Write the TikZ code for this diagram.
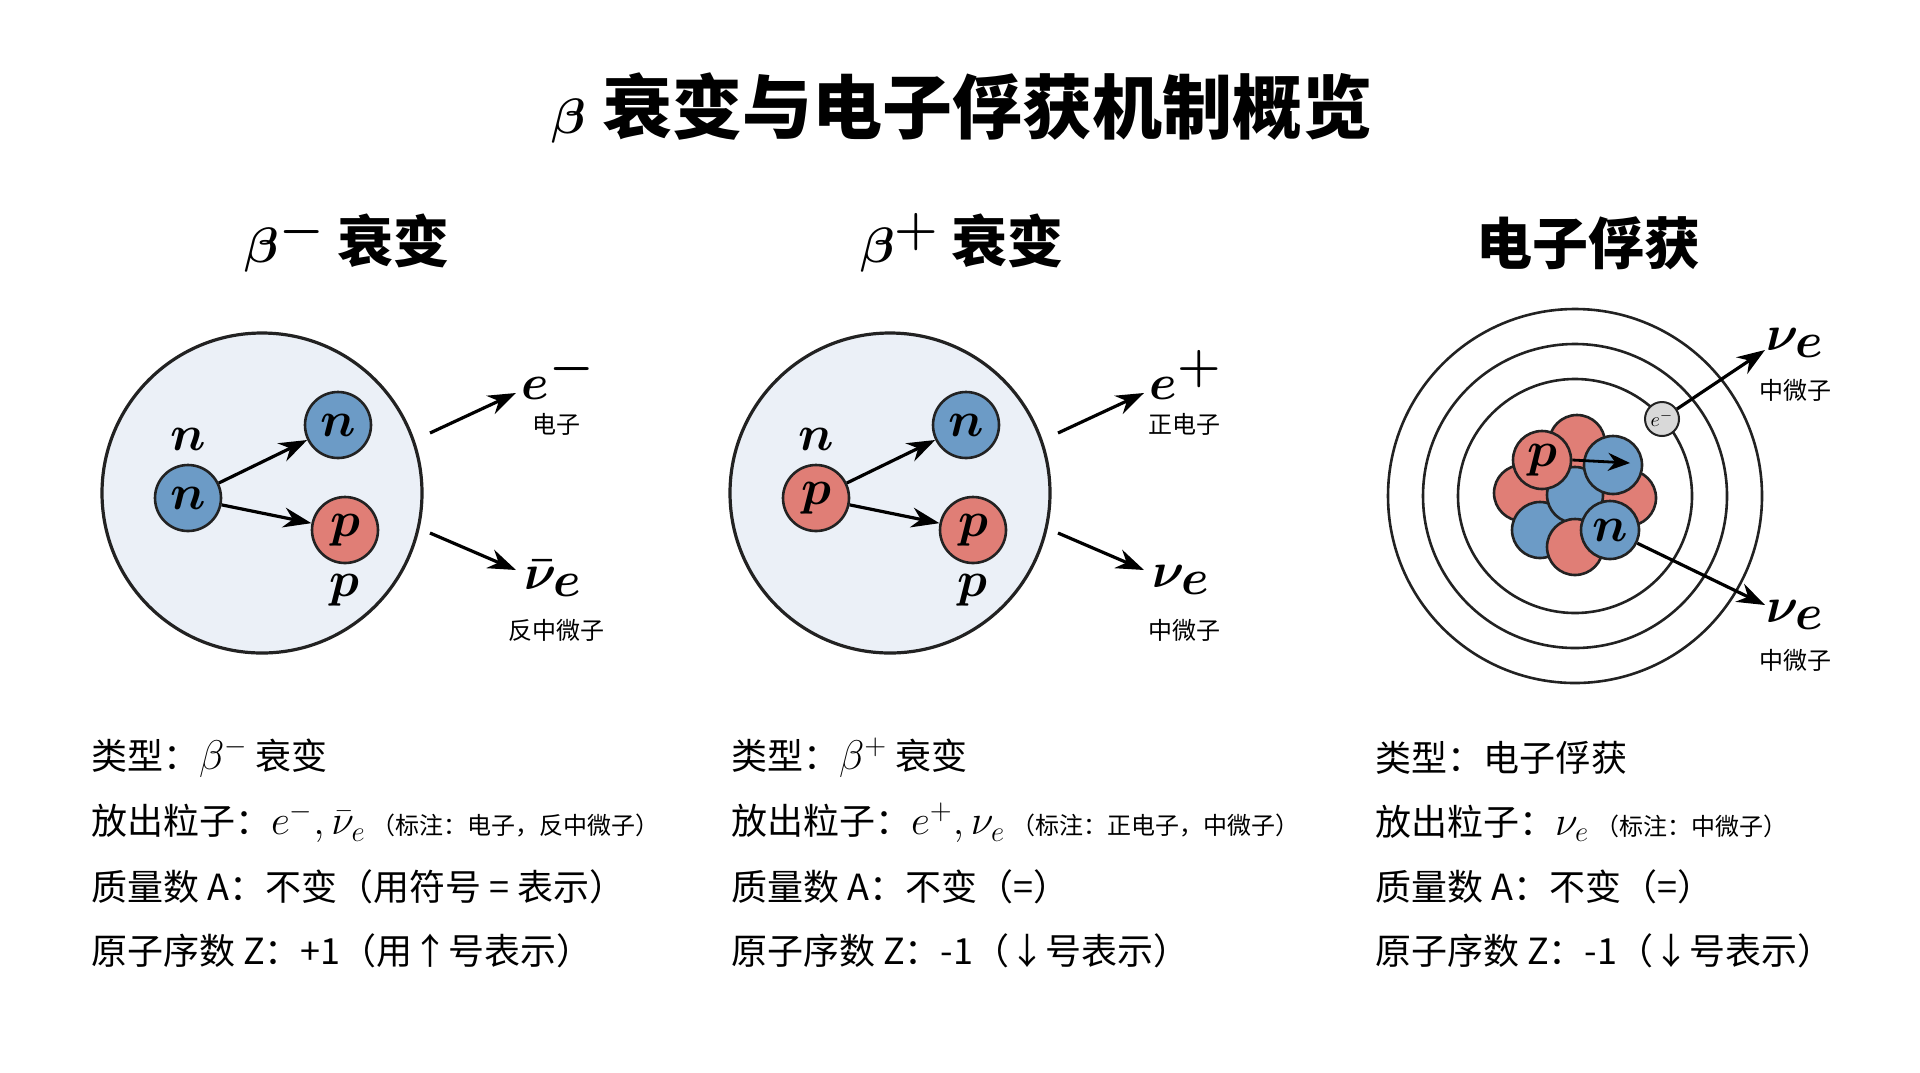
\documentclass[tikz,border=0pt]{standalone}
\usepackage{amsmath}
\usepackage{fontspec}
\setmainfont{Noto Sans CJK SC}
\usetikzlibrary{arrows.meta}
\definecolor{nblue}{HTML}{6C9BC6}
\definecolor{pred}{HTML}{E07E76}
\definecolor{cellbg}{HTML}{EBF0F7}
\definecolor{ink}{HTML}{222222}
\tikzset{>={Stealth[length=14pt,width=10pt]}}
\tikzset{
	ball/.style={circle, draw=ink, line width=1.3pt, minimum size=33pt, inner sep=0pt, font=\fontsize{26}{26}\selectfont\boldmath},
	neutron/.style={ball, fill=nblue},
	proton/.style={ball, fill=pred},
	emit/.style={->, line width=1.6pt},
	plab/.style={font=\fontsize{33}{33}\selectfont\boldmath},
	cnlab/.style={font=\fontsize{12}{12}\selectfont},
	body/.style={anchor=west, font=\fontsize{18}{18}\selectfont},
	note/.style={font=\fontsize{11.5}{12}\selectfont},
	head/.style={font=\fontsize{28}{28}\selectfont\bfseries\boldmath}
}
\begin{document}
\begin{tikzpicture}[x=0.5pt,y=-0.5pt]
	\useasboundingbox (0,0) rectangle (1920,1072);

	% Title
	\node[font=\fontsize{35}{35}\selectfont\bfseries\boldmath] (title) at (962,108) {{\fontsize{44}{44}\selectfont$\beta$} 衰变与电子俘获机制概览};

	% Headings
	\node[head] (h1) at (347,243) {{\fontsize{34}{34}\selectfont$\beta^-$} 衰变};
	\node[head] (h2) at (962,243) {{\fontsize{34}{34}\selectfont$\beta^+$} 衰变};
	\node[head] (h3) at (1588,243) {电子俘获};

	% beta minus
	\filldraw[fill=cellbg, draw=ink, line width=1.6pt] (262,493) circle (160);
	\node[neutron] (n1) at (188,498) {$n$};
	\node[neutron] (n2) at (338,425) {$n$};
	\node[proton] (p2) at (345,530) {$p$};
	\node[plab] (ln1) at (188,439) {$n$};
	\node[plab] (lp2) at (344,590) {$p$};
	\draw[emit] (n1) -- (n2);
	\draw[emit] (n1) -- (p2);
	\coordinate (a1) at (430,433);
	\coordinate (a1e) at (516,393);
	\coordinate (a2) at (430,533);
	\coordinate (a2e) at (516,570);
	\node[plab] (em) at (558,375) {$e^-$};
	\node[cnlab] (emc) at (556,424) {电子};
	\node[plab] (nub) at (553,578) {$\bar{\nu}_e$};
	\node[cnlab] (nubc) at (556,630) {反中微子};
	\draw[emit] (a1) -- (a1e);
	\draw[emit] (a2) -- (a2e);

	% beta plus
	\filldraw[fill=cellbg, draw=ink, line width=1.6pt] (890,493) circle (160);
	\node[proton] (p3) at (816,498) {$p$};
	\node[neutron] (n4) at (966,425) {$n$};
	\node[proton] (p4) at (973,530) {$p$};
	\node[plab] (ln3) at (816,439) {$n$};
	\node[plab] (lp4) at (972,590) {$p$};
	\draw[emit] (p3) -- (n4);
	\draw[emit] (p3) -- (p4);
	\coordinate (b1) at (1058,433);
	\coordinate (b1e) at (1144,393);
	\coordinate (b2) at (1058,533);
	\coordinate (b2e) at (1144,570);
	\node[plab] (ep) at (1186,375) {$e^+$};
	\node[cnlab] (epc) at (1184,424) {正电子};
	\node[plab] (nu) at (1181,580) {$\nu_e$};
	\node[cnlab] (nuc) at (1184,630) {中微子};
	\draw[emit] (b1) -- (b1e);
	\draw[emit] (b2) -- (b2e);

	% electron capture: shells
	\foreach \r in {117,152,187}
		\draw[ink, line width=1.3pt] (1575,496) circle (\r);
	% nucleus
	\filldraw[fill=pred, draw=ink, line width=1.3pt] (1577,443) circle (28);
	\filldraw[fill=pred, draw=ink, line width=1.3pt] (1628,498) circle (28);
	\filldraw[fill=pred, draw=ink, line width=1.3pt] (1522,493) circle (28);
	\filldraw[fill=nblue, draw=ink, line width=1.3pt] (1540,530) circle (28);
	\filldraw[fill=nblue, draw=ink, line width=1.3pt] (1575,495) circle (28);
	\filldraw[fill=pred, draw=ink, line width=1.3pt] (1575,547) circle (28);
	\node[proton, minimum size=29pt] (pc) at (1542,460) {$p$};
	\node[neutron, minimum size=29pt] (nc1) at (1613,465) {};
	\node[neutron, minimum size=29pt] (nc2) at (1610,530) {$n$};
	\draw[->, line width=1.4pt, >={Stealth[length=11pt,width=9pt]}] (pc.east) -- (1630,463);
	\node[circle, draw=ink, fill=gray!30, line width=1pt, minimum size=17pt, inner sep=0pt, font=\fontsize{10}{10}\selectfont] (ec) at (1662,419) {$e^-$};
	\coordinate (c1e) at (1765,350);
	\coordinate (c2e) at (1765,605);
	\node[plab] (nu1) at (1795,343) {$\nu_e$};
	\node[cnlab] (nu1c) at (1795,390) {中微子};
	\node[plab] (nu2) at (1795,615) {$\nu_e$};
	\node[cnlab] (nu2c) at (1795,660) {中微子};
	\draw[emit] (ec) -- (c1e);
	\draw[emit] (nc2) -- (c2e);

	% Summaries
	\node[body] (t1) at (84,758) {类型：{\fontsize{22}{22}\selectfont$\beta^-$} 衰变};
	\node[body] (t2) at (84,823) {放出粒子：{\fontsize{22}{22}\selectfont$e^-,\bar{\nu}_e$}\,{\fontsize{12}{12}\selectfont（标注：电子，反中微子）}};
	\node[body] (t3) at (84,887) {质量数 A：不变（用符号 = 表示）};
	\node[body] (t4) at (84,951) {原子序数 Z：+1（用↑号表示）};

	\node[body] (u1) at (724,758) {类型：{\fontsize{22}{22}\selectfont$\beta^+$} 衰变};
	\node[body] (u2) at (724,823) {放出粒子：{\fontsize{22}{22}\selectfont$e^+,\nu_e$}\,{\fontsize{12}{12}\selectfont（标注：正电子，中微子）}};
	\node[body] (u3) at (724,887) {质量数 A：不变（=）};
	\node[body] (u4) at (724,951) {原子序数 Z：-1（↓号表示）};

	\node[body] (v1) at (1368,758) {类型：电子俘获};
	\node[body] (v2) at (1368,823) {放出粒子：{\fontsize{22}{22}\selectfont$\nu_e$}\,{\fontsize{12}{12}\selectfont（标注：中微子）}};
	\node[body] (v3) at (1368,887) {质量数 A：不变（=）};
	\node[body] (v4) at (1368,951) {原子序数 Z：-1（↓号表示）};
\end{tikzpicture}
\end{document}
